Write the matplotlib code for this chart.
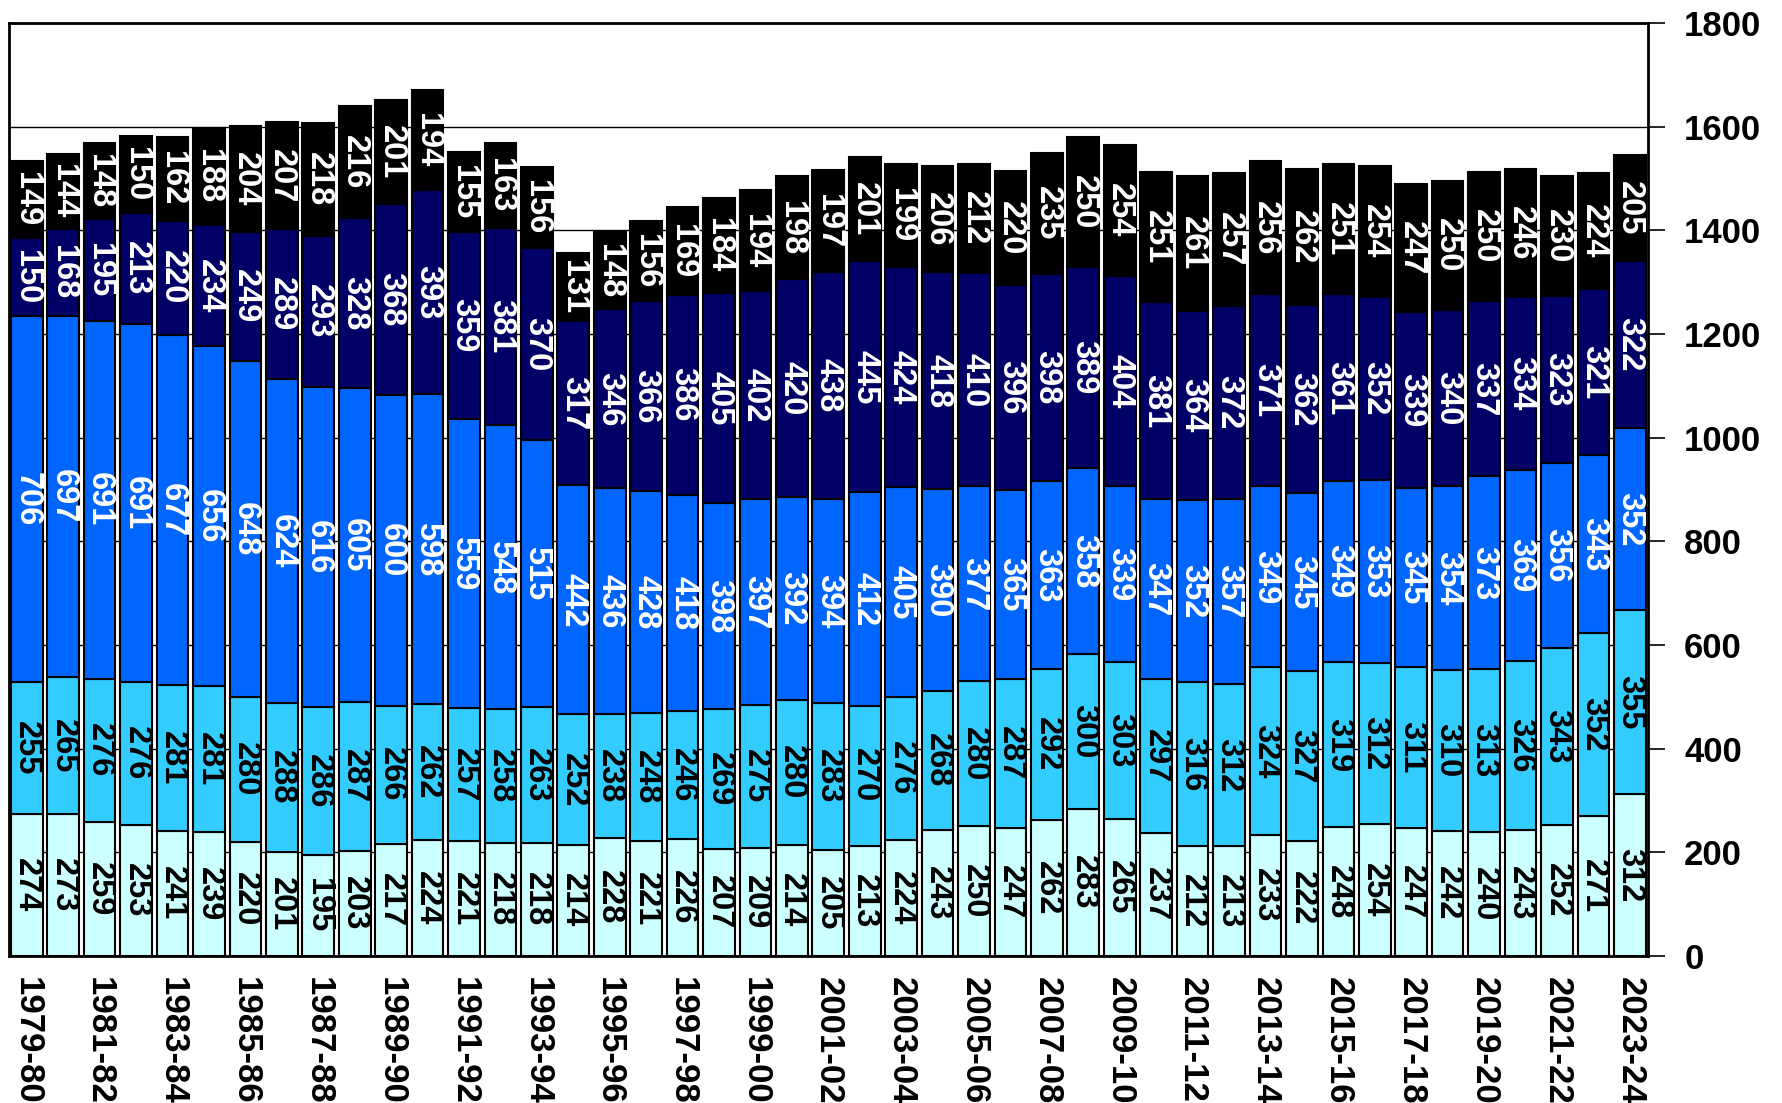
import numpy as np
import matplotlib.pyplot as plt

# seasons and the five stacked groups (bottom to top)
seasons = ["1979-80", "1980-81", "1981-82", "1982-83", "1983-84", "1984-85", "1985-86",
           "1986-87", "1987-88", "1988-89", "1989-90", "1990-91", "1991-92", "1992-93",
           "1993-94", "1994-95", "1995-96", "1996-97", "1997-98", "1998-99", "1999-00",
           "2000-01", "2001-02", "2002-03", "2003-04", "2004-05", "2005-06", "2006-07",
           "2007-08", "2008-09", "2009-10", "2010-11", "2011-12", "2012-13", "2013-14",
           "2014-15", "2015-16", "2016-17", "2017-18", "2018-19", "2019-20", "2020-21",
           "2021-22", "2022-23", "2023-24"]

group1 = [274, 273, 259, 253, 241, 239, 220, 201, 195, 203, 217, 224, 221, 218, 218,
          214, 228, 221, 226, 207, 209, 214, 205, 213, 224, 243, 250, 247, 262, 283,
          265, 237, 212, 213, 233, 222, 248, 254, 247, 242, 240, 243, 252, 271, 312]
group2 = [255, 265, 276, 276, 281, 281, 280, 288, 286, 287, 266, 262, 257, 258, 263,
          252, 238, 248, 246, 269, 275, 280, 283, 270, 276, 268, 280, 287, 292, 300,
          303, 297, 316, 312, 324, 327, 319, 312, 311, 310, 313, 326, 343, 352, 355]
group3 = [706, 697, 691, 691, 677, 656, 648, 624, 616, 605, 600, 598, 559, 548, 515,
          442, 436, 428, 418, 398, 397, 392, 394, 412, 405, 390, 377, 365, 363, 358,
          339, 347, 352, 357, 349, 345, 349, 353, 345, 354, 373, 369, 356, 343, 352]
group4 = [150, 168, 195, 213, 220, 234, 249, 289, 293, 328, 368, 393, 359, 381, 370,
          317, 346, 366, 386, 405, 402, 420, 438, 445, 424, 418, 410, 396, 398, 389,
          404, 381, 364, 372, 371, 362, 361, 352, 339, 340, 337, 334, 323, 321, 322]
group5 = [149, 144, 148, 150, 162, 188, 204, 207, 218, 216, 201, 194, 155, 163, 156,
          131, 148, 156, 169, 184, 194, 198, 197, 201, 199, 206, 212, 220, 235, 250,
          254, 251, 261, 257, 256, 262, 251, 254, 247, 250, 250, 246, 230, 224, 205]

groups = [group1, group2, group3, group4, group5]
colors = ["#CCFFFF", "#33CCFF", "#0066FF", "#000066", "#000000"]
text_colors = ["black", "black", "white", "white", "white"]

plt.rcParams['font.family'] = ['Liberation Sans', 'DejaVu Sans']
plt.rcParams['font.weight'] = 'bold'

fig = plt.figure(figsize=(17.83, 11.03), dpi=100)
ax = fig.add_axes([0.0048, 0.1333, 0.9195, 0.8458])

x = np.arange(len(seasons))
bottom = np.zeros(len(seasons))
for vals, col, tcol in zip(groups, colors, text_colors):
    vals = np.array(vals, dtype=float)
    ax.bar(x, vals, width=0.87, bottom=bottom, color=col, edgecolor='black',
           linewidth=1.5, zorder=2)
    for xi, b, v in zip(x, bottom, vals):
        ax.text(xi, b + v / 2, f"{int(v)}", rotation=-90, ha='center', va='center',
                color=tcol, fontsize=23.5, fontweight='bold', zorder=3)
    bottom += vals

ax.set_xlim(-0.5, len(seasons) - 0.5)
ax.set_ylim(0, 1800)
ax.set_yticks(np.arange(0, 1801, 200))
ax.yaxis.tick_right()
ax.tick_params(axis='y', direction='out', length=12, width=1.2, pad=14, labelsize=25)
ax.grid(axis='y', color='black', linewidth=1.0, zorder=0)
ax.set_axisbelow(True)

ax.set_xticks(x[::2])
ax.set_xticklabels(seasons[::2], rotation=-90, fontsize=25, fontweight='bold')
ax.tick_params(axis='x', length=0, pad=15)

for s in ax.spines.values():
    s.set_linewidth(2)
    s.set_color('black')

fig.savefig("out.png", dpi=100)
